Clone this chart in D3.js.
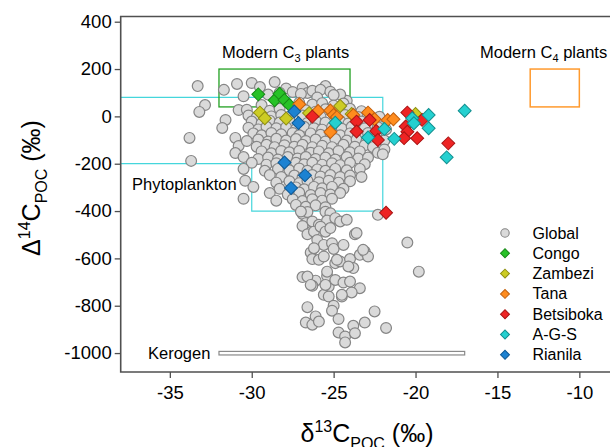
<!DOCTYPE html>
<html>
<head>
<meta charset="utf-8">
<script src="https://cdn.jsdelivr.net/npm/d3@7"></script>
<style>
  body { margin: 0; background: #fff; }
  text { font-family: "Liberation Sans", Arial, sans-serif; }
</style>
</head>
<body>
<script>
// d13C (permil), D14C (permil)
const globalPts = [
  // upper scatter
  [-33.3,128],[-32.85,48],[-33.2,19],[-33.8,-91],[-33.7,-188],[-31.7,112],[-30.9,137],[-30.0,141],
  [-29.5,124],[-28.6,145],[-27.9,118],[-27.5,103],[-26.9,120],[-26.6,99],[-25.5,128],[-24.2,66],
  [-30.5,85],[-29.0,92],[-28.3,100],[-27.0,95],[-26.3,108],[-25.8,112],[-25.2,104],[-24.6,92],[-26.0,80],[-25.0,90],
  // sparse left edge
  [-30.8,27],[-31.6,-15],[-31.8,-49],[-31.0,-91],[-30.8,-125],[-31.0,-155],
  // dense body
  [-29.4,48],[-27.1,58],[-26.3,50],[-25.7,56],[-25.0,46],[-24.4,54],
  [-30.3,28],[-28.9,24],[-28.3,32],[-26.7,26],[-26.1,20],[-25.5,30],[-24.7,24],[-24.0,32],[-23.3,22],
  [-30.2,4],[-29.7,-4],[-28.8,0],[-28.2,6],[-27.7,-2],[-26.9,4],[-25.8,0],[-24.3,6],[-23.5,-3],[-22.9,4],[-22.2,-2],
  [-30.0,-22],[-29.4,-30],[-28.9,-18],[-28.3,-26],[-27.7,-20],[-26.6,-28],[-26.1,-18],[-25.5,-26],[-24.6,-20],[-24.1,-30],[-23.3,-22],[-22.6,-28],
  [-30.2,-48],[-29.6,-55],[-29.1,-44],[-28.5,-50],[-27.9,-46],[-27.3,-54],[-26.8,-44],[-26.2,-50],[-25.7,-56],[-25.1,-46],[-24.5,-52],[-23.9,-44],[-23.1,-50],[-22.3,-46],[-21.8,-55],
  [-29.9,-72],[-29.4,-80],[-28.8,-70],[-28.2,-76],[-27.5,-70],[-27.1,-80],[-26.4,-72],[-25.8,-78],[-25.2,-70],[-24.6,-80],[-24.0,-72],[-23.5,-78],[-22.9,-70],[-22.4,-76],
  [-30.3,-104],[-29.6,-98],[-29.0,-106],[-28.5,-95],[-27.9,-102],[-27.3,-96],[-26.7,-104],[-26.1,-98],[-25.5,-106],[-24.9,-96],[-24.2,-102],[-23.6,-98],[-23.0,-106],[-22.5,-96],[-21.9,-102],
  [-29.7,-128],[-29.1,-120],[-28.6,-130],[-28.0,-122],[-27.4,-128],[-26.9,-120],[-26.3,-130],[-25.7,-124],[-25.1,-130],[-24.4,-120],[-23.7,-128],[-23.1,-122],[-22.6,-130],
  [-29.4,-148],[-28.8,-156],[-28.2,-146],[-27.7,-152],[-27.1,-146],[-26.4,-154],[-25.9,-148],[-25.3,-156],[-24.7,-146],[-24.0,-152],[-23.4,-148],[-22.3,-154],
  [-30.5,-172],[-29.6,-180],[-29.0,-174],[-28.4,-182],[-27.8,-172],[-27.2,-178],[-26.7,-172],[-26.1,-180],[-25.5,-174],[-24.9,-182],[-24.2,-172],[-23.5,-178],[-22.9,-174],
  [-30.0,-196],[-29.1,-204],[-28.5,-198],[-27.9,-206],[-27.3,-196],[-26.8,-202],[-26.3,-196],[-25.7,-204],[-25.1,-198],[-24.6,-206],[-24.0,-196],[-23.1,-202],
  [-30.5,-222],[-29.2,-230],[-28.4,-222],[-27.7,-228],[-27.1,-220],[-26.6,-230],[-26.0,-224],[-25.5,-230],[-24.9,-222],[-24.2,-228],[-23.4,-222],
  [-28.9,-248],[-28.2,-256],[-27.4,-250],[-26.9,-258],[-26.3,-248],[-25.8,-254],[-25.2,-248],[-24.6,-256],[-24.0,-250],[-23.3,-256],
  [-30.4,-272],[-28.5,-280],[-27.7,-274],[-27.1,-282],[-26.6,-272],[-25.9,-278],[-25.3,-272],[-24.7,-280],[-24.0,-274],
  [-29.9,-298],[-28.3,-306],[-27.3,-300],[-26.8,-308],[-26.2,-298],[-25.7,-304],[-25.1,-298],[-24.4,-306],
  [-28.9,-324],[-27.8,-330],[-27.1,-322],[-26.4,-332],[-25.8,-324],[-25.2,-330],[-24.6,-324],
  [-30.5,-348],[-28.5,-356],[-27.5,-350],[-26.9,-358],[-26.3,-350],[-25.7,-356],[-25.1,-348],
  [-27.3,-374],[-26.7,-382],[-26.1,-376],[-25.5,-384],
  [-21.9,-140],[-22.0,-160],
  // lower tail
  [-26.9,-412],[-26.6,-404],[-25.5,-403],[-25.2,-409],[-26.7,-451],[-26.3,-444],[-25.9,-458],[-25.4,-440],
  [-24.9,-430],[-24.6,-444],[-24.2,-437],[-26.9,-463],[-26.6,-498],[-26.2,-487],[-25.8,-466],[-25.5,-487],
  [-25.2,-472],[-26.0,-522],[-25.6,-543],[-25.1,-536],[-25.0,-560],[-24.4,-543],[-23.7,-498],[-22.3,-416],
  [-20.5,-533],[-26.4,-575],[-26.3,-603],[-25.9,-606],[-25.6,-592],[-24.9,-620],[-24.6,-613],[-24.0,-603],
  [-23.8,-641],[-24.1,-634],[-23.4,-585],[-23.1,-571],[-22.9,-592],[-26.9,-679],[-26.1,-694],[-26.3,-716],
  [-25.4,-674],[-25.3,-719],[-24.9,-691],[-24.4,-702],[-24.0,-698],[-23.4,-726],[-25.6,-754],[-25.3,-761],
  [-24.5,-761],[-23.9,-744],[-19.8,-656],[-26.6,-806],[-25.0,-800],[-25.1,-821],[-26.7,-871],[-26.3,-880],
  [-26.1,-845],[-25.9,-867],[-24.7,-856],[-23.1,-871],[-22.5,-824],[-21.8,-894],[-24.7,-913],[-24.3,-930],
  [-24.3,-955],[-23.8,-885],[-23.7,-916],[-27.0,-402],[-23.6,-493],[-23.2,-564],[-24.8,-606],[-26.2,-557],
  [-26.6,-677],[-25.4,-656],[-24.5,-754],[-26.4,-712],[-25.5,-712]
];

const congo = [[-29.6,93],[-28.6,68],[-28.3,96],[-28.0,69],[-27.7,48]];
const zambezi = [[-29.5,16],[-29.2,-8],[-27.9,-9],[-26.5,14],[-24.6,44],[-23.9,10],[-20.0,10]];
const tana = [[-27.1,51],[-25.95,23],[-25.2,25],[-25.0,6],[-24.8,-3],[-25.2,-66],[-23.8,6],[-22.9,16],[-22.5,-12],[-21.7,-15],[-21.35,-12]];
const betsiboka = [[-26.3,-1],[-23.6,-22],[-22.8,-15],[-23.6,-64],[-22.4,-62],[-22.3,-100],[-20.5,16],[-20.6,-43],
  [-20.5,-65],[-20.7,-92],[-19.9,-92],[-19.6,-15],[-18.0,-114],[-21.8,-407]];
const ags = [[-24.9,-27],[-22.9,-89],[-21.9,-53],[-21.3,-95],[-20.2,-8],[-20.1,-29],[-19.2,6],[-19.2,-50],[-18.1,-173],[-17.0,24]];
const rianila = [[-27.4,21],[-27.15,-28],[-28.0,-195],[-26.75,-249],[-27.6,-303]];

const seriesNames = ["Global", "Congo", "Zambezi", "Tana", "Betsiboka", "A-G-S", "Rianila"];
const riverSeries = [congo, zambezi, tana, betsiboka, ags, rianila];
const fills = ["#dadada", "#27c227", "#cccc24", "#ff8c1e", "#ee2424", "#24d0d0", "#1c82d2"];
const strokes = ["#858585", "#178a17", "#8f8f14", "#c2600e", "#a81414", "#138f8f", "#0f5a96"];

const xTicks = [-35, -30, -25, -20, -15, -10];
const yTicks = [400, 200, 0, -200, -400, -600, -800, -1000];

// reference regions
const c3Box = { x0: -32, x1: -24, y0: 40, y1: 200 };
const c4Box = { x0: -13, x1: -10, y0: 40, y1: 200 };
const phytoOutline = [[-38, 80], [-22, 80], [-22, -400], [-30, -400], [-30, -200], [-38, -200]];
const kerogen = { x0: -32, x1: -17, y0: -993, y1: -1008 };

const W = 610, H = 447;
const svg = d3.select("body").append("svg")
  .attr("width", W)
  .attr("height", H);

const x = d3.scaleLinear().domain([-38, -8]).range([120.7, 612.1]);
const y = d3.scaleLinear().domain([-1080, 422]).range([372, 16.5]);

// boxes
svg.append("path")
  .attr("d", d3.line().x(d => x(d[0])).y(d => y(d[1]))(phytoOutline))
  .style("fill", "none")
  .style("stroke", "#45d6dc")
  .style("stroke-width", 1.2);

svg.append("rect")
  .attr("x", x(c3Box.x0)).attr("y", y(c3Box.y1))
  .attr("width", x(c3Box.x1) - x(c3Box.x0))
  .attr("height", y(c3Box.y0) - y(c3Box.y1))
  .style("fill", "none")
  .style("stroke", "#22a022")
  .style("stroke-width", 1.3);

svg.append("rect")
  .attr("x", x(c4Box.x0)).attr("y", y(c4Box.y1))
  .attr("width", x(c4Box.x1) - x(c4Box.x0))
  .attr("height", y(c4Box.y0) - y(c4Box.y1))
  .style("fill", "none")
  .style("stroke", "#ff9a2e")
  .style("stroke-width", 1.5);

svg.append("rect")
  .attr("x", x(kerogen.x0)).attr("y", y(kerogen.y0))
  .attr("width", x(kerogen.x1) - x(kerogen.x0))
  .attr("height", y(kerogen.y1) - y(kerogen.y0))
  .style("fill", "#fff")
  .style("stroke", "#8a8a8a")
  .style("stroke-width", 1.2);

// global points
svg.append("g").selectAll("circle")
  .data(globalPts)
  .enter().append("circle")
  .attr("cx", d => x(d[0]))
  .attr("cy", d => y(d[1]))
  .attr("r", 5.4)
  .style("fill", fills[0])
  .style("stroke", strokes[0])
  .style("stroke-width", 1.2);

// river diamonds
const diamond = d3.symbol().type(d3.symbolSquare).size(84);
riverSeries.forEach((pts, i) => {
  svg.append("g").selectAll("path")
    .data(pts)
    .enter().append("path")
    .attr("d", diamond)
    .attr("transform", d => "translate(" + x(d[0]) + "," + y(d[1]) + ") rotate(45)")
    .style("fill", fills[i + 1])
    .style("stroke", strokes[i + 1])
    .style("stroke-width", 1);
});

// frame
svg.append("path")
  .attr("d", "M" + W + "," + y.range()[1] + "H" + x.range()[0] + "V" + y.range()[0] + "H" + W)
  .style("fill", "none")
  .style("stroke", "#505050")
  .style("stroke-width", 1.6);

// axes (plain hyphen minus, no thousands separator)
const yAxis = svg.append("g")
  .attr("transform", "translate(" + x.range()[0] + ",0)")
  .call(d3.axisLeft(y).tickValues(yTicks).tickFormat(d => String(d)).tickSize(6).tickPadding(3));
const xAxis = svg.append("g")
  .attr("transform", "translate(0," + y.range()[0] + ")")
  .call(d3.axisBottom(x).tickValues(xTicks).tickFormat(d => String(d)).tickSize(6).tickPadding(8));

[xAxis, yAxis].forEach(a => {
  a.select(".domain").remove();
  a.selectAll("line").style("stroke", "#505050").style("stroke-width", 1.3);
  a.selectAll("text")
    .style("font-family", "Liberation Sans, Arial, sans-serif")
    .style("font-size", "18.5px")
    .style("fill", "#000");
});

// axis titles
const xt = svg.append("text")
  .attr("x", 367).attr("y", 442)
  .attr("text-anchor", "middle")
  .style("font-size", "25px");
xt.append("tspan").text("δ");
xt.append("tspan").attr("dy", -10).style("font-size", "16px").text("13");
xt.append("tspan").attr("dy", 10).text("C");
xt.append("tspan").attr("dy", 7).style("font-size", "16px").text("POC");
xt.append("tspan").attr("dy", -7).text(" (‰)");

const yt = svg.append("text")
  .attr("transform", "translate(40,188) rotate(-90)")
  .attr("text-anchor", "middle")
  .style("font-size", "25px");
yt.append("tspan").text("Δ");
yt.append("tspan").attr("dy", -10).style("font-size", "16px").text("14");
yt.append("tspan").attr("dy", 10).text("C");
yt.append("tspan").attr("dy", 7).style("font-size", "16px").text("POC");
yt.append("tspan").attr("dy", -7).text(" (‰)");

// region labels
function plantLabel(tx, ty, idx) {
  const t = svg.append("text").attr("x", tx).attr("y", ty).style("font-size", "16.5px");
  t.append("tspan").text("Modern C");
  t.append("tspan").attr("dy", 4).style("font-size", "11px").text(idx);
  t.append("tspan").attr("dy", -4).text(" plants");
}
plantLabel(222, 58, "3");
plantLabel(480, 58, "4");

svg.append("text").attr("x", 132).attr("y", 190).style("font-size", "16.5px").text("Phytoplankton");
svg.append("text").attr("x", 148).attr("y", 359).style("font-size", "16.5px").text("Kerogen");

// legend
const legend = svg.append("g").attr("transform", "translate(505,233)");
seriesNames.forEach((name, i) => {
  const row = legend.append("g").attr("transform", "translate(0," + (i * 20.3) + ")");
  if (i === 0) {
    row.append("circle").attr("r", 4.2)
      .style("fill", fills[0]).style("stroke", strokes[0]).style("stroke-width", 1.1);
  } else {
    row.append("path")
      .attr("d", d3.symbol().type(d3.symbolSquare).size(40))
      .attr("transform", "rotate(45)")
      .style("fill", fills[i]).style("stroke", strokes[i]).style("stroke-width", 1);
  }
  row.append("text")
    .attr("x", 27.5).attr("y", 5.5)
    .style("font-size", "16px")
    .text(name);
});
</script>
</body>
</html>
